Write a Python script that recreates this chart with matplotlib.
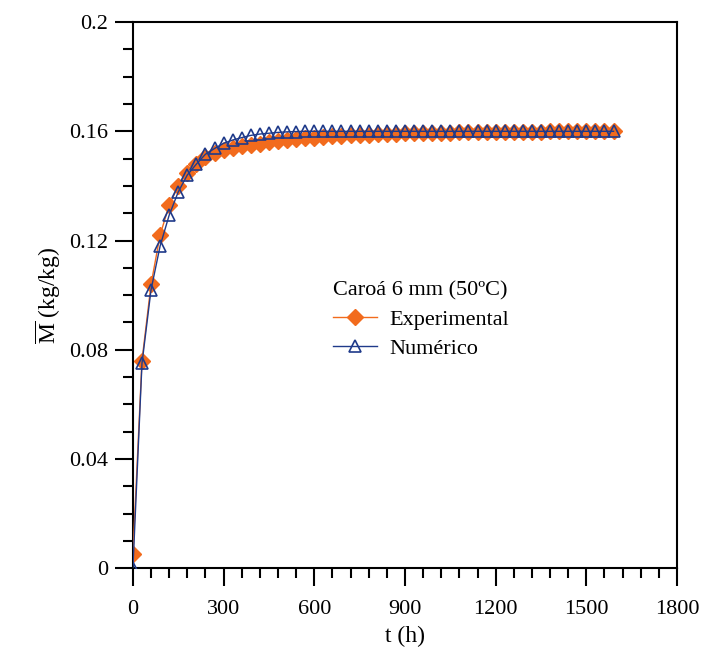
import matplotlib
matplotlib.use("Agg")
import matplotlib.pyplot as plt
from matplotlib.ticker import MultipleLocator, FuncFormatter

plt.rcParams['font.family'] = ['Liberation Serif', 'DejaVu Serif']
plt.rcParams['mathtext.fontset'] = 'custom'
plt.rcParams['mathtext.rm'] = 'Liberation Serif'

t_exp = [0, 30, 60, 90, 120, 150, 180, 210, 240, 270, 300, 330, 360, 390, 420, 450, 480, 510,
         540, 570, 600, 630, 660, 690, 720, 750, 780, 810, 840, 870, 900, 930, 960, 990, 1020,
         1050, 1080, 1110, 1140, 1170, 1200, 1230, 1260, 1290, 1320, 1350, 1380, 1410, 1440,
         1470, 1500, 1530, 1560, 1590]
m_exp = [0.005, 0.076, 0.104, 0.122, 0.133, 0.140, 0.1446, 0.148, 0.1505, 0.152, 0.153, 0.1538,
         0.1545, 0.155, 0.1555, 0.156, 0.1564, 0.1568, 0.1571, 0.1574, 0.1577, 0.1579, 0.1581,
         0.1583, 0.1585, 0.1587, 0.1588, 0.1589, 0.159, 0.1591, 0.1592, 0.1593, 0.1594, 0.1594,
         0.1595, 0.1595, 0.1596, 0.1596, 0.1597, 0.1597, 0.1598, 0.1598, 0.1598, 0.1599, 0.1599,
         0.1599, 0.16, 0.16, 0.16, 0.16, 0.16, 0.16, 0.16, 0.16]
t_num = t_exp
m_num = [0.0, 0.075, 0.102, 0.118, 0.1293, 0.1378, 0.144, 0.148, 0.1516, 0.1537, 0.1556, 0.1568,
         0.1577, 0.1585, 0.159, 0.1593, 0.1596, 0.1598, 0.1599, 0.16, 0.16, 0.16, 0.16, 0.16,
         0.16, 0.16, 0.16, 0.16, 0.16, 0.16, 0.16, 0.16, 0.16, 0.16, 0.16, 0.16, 0.16, 0.16,
         0.16, 0.16, 0.16, 0.16, 0.16, 0.16, 0.16, 0.16, 0.16, 0.16, 0.16, 0.16, 0.16, 0.16,
         0.16, 0.16]

orange = '#F26B1D'
blue = '#1F3A8A'

fig = plt.figure(figsize=(7.07, 6.5), dpi=100)
ax = fig.add_axes([0.188, 0.126, 0.7696, 0.840])

ax.plot(t_exp, m_exp, color=orange, lw=1.0, marker='D', ms=8, mfc=orange, mec=orange,
        label='Experimental', zorder=3)
ax.plot(t_num, m_num, color=blue, lw=1.0, marker='^', ms=9, mfc='none', mec=blue, mew=1.2,
        label='Numérico', zorder=4)

ax.set_xlim(0, 1800)
ax.set_ylim(0, 0.2)
ax.xaxis.set_major_locator(MultipleLocator(300))
ax.xaxis.set_minor_locator(MultipleLocator(60))
ax.yaxis.set_major_locator(MultipleLocator(0.04))
ax.yaxis.set_minor_locator(MultipleLocator(0.01))

def yfmt(v, pos):
    if abs(v) < 1e-9:
        return '0'
    return ('%.2f' % v).rstrip('0')
ax.yaxis.set_major_formatter(FuncFormatter(yfmt))

ax.tick_params(which='major', direction='out', length=13, width=1.5, labelsize=16)
ax.tick_params(axis='y', which='major', pad=5)
ax.tick_params(axis='x', which='major', pad=10)
ax.tick_params(which='minor', direction='out', length=7, width=1.5)
ax.tick_params(top=False, right=False, which='both')
for s in ax.spines.values():
    s.set_linewidth(1.5)

ax.set_xlabel('t (h)', fontsize=17, labelpad=5)
ax.set_ylabel(r'$\overline{\mathrm{M}}$ (kg/kg)', fontsize=17, labelpad=4)

leg = ax.legend(title='Caroá 6 mm (50ºC)', loc='upper left', bbox_to_anchor=(0.455, 0.585),
                bbox_transform=fig.transFigure, frameon=False, fontsize=16, title_fontsize=16,
                handlelength=2.0, handletextpad=0.55, labelspacing=0.4, alignment='left',
                borderpad=0)

fig.savefig('out.png', dpi=100)
